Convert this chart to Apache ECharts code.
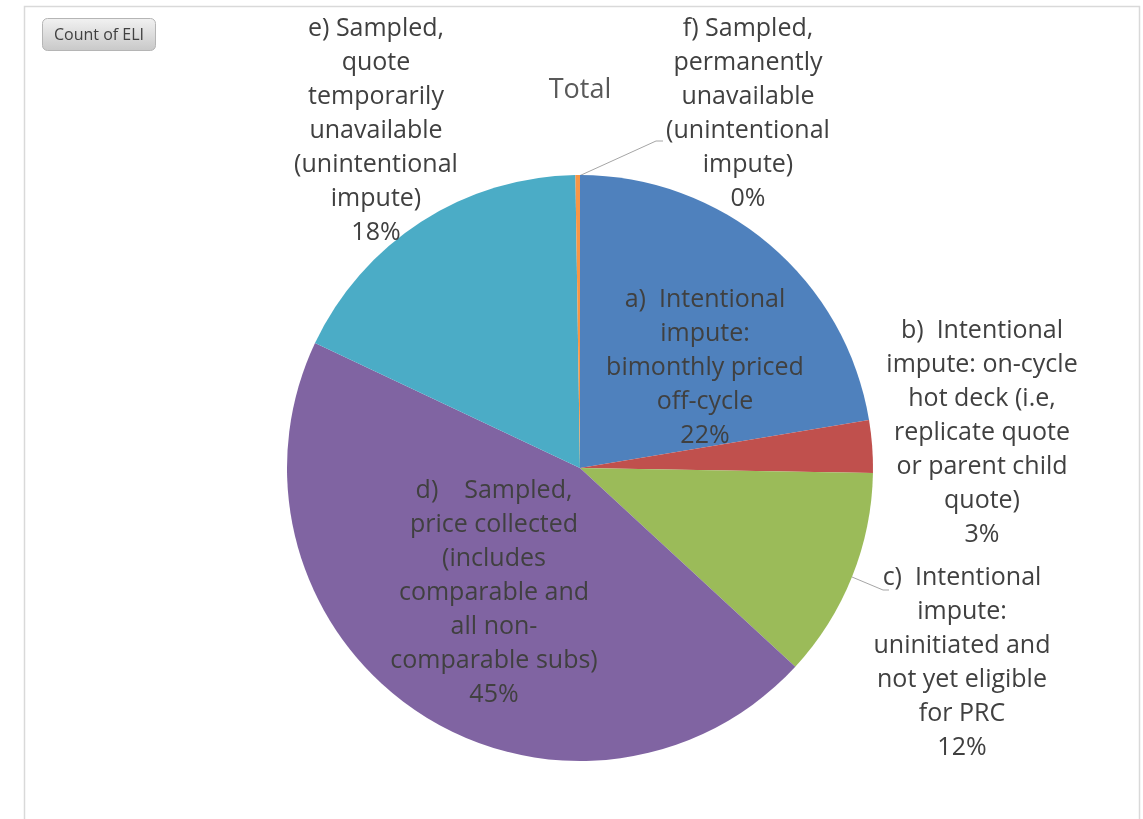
<!DOCTYPE html>
<html>
<head>
<meta charset="utf-8">
<script src="https://cdn.jsdelivr.net/npm/echarts@6/dist/echarts.min.js"></script>
<style>
  html, body { margin: 0; padding: 0; background: #ffffff; }
  #chart { width: 1143px; height: 819px; }
</style>
</head>
<body>
<div id="chart"></div>
<script>
// Count of ELI by collection / imputation category
const categories = [
  'a)  Intentional\nimpute:\nbimonthly priced\noff-cycle',
  'b)  Intentional\nimpute: on-cycle\nhot deck (i.e,\nreplicate quote\nor parent child\nquote)',
  'c)  Intentional\nimpute:\nuninitiated and\nnot yet eligible\nfor PRC',
  'd)    Sampled,\nprice collected\n(includes\ncomparable and\nall non-\ncomparable subs)',
  'e) Sampled,\nquote\ntemporarily\nunavailable\n(unintentional\nimpute)',
  'f) Sampled,\npermanently\nunavailable\n(unintentional\nimpute)'
];
const counts = [2240, 290, 1160, 4520, 1775, 25];
const sliceColors = ['#4F81BD', '#C0504D', '#9BBB59', '#8064A2', '#4BACC6', '#F79646'];
const chartTitle = 'Total';
const fieldButton = 'Count of ELI';

// Label placement (centre of each label block) and leader lines
const labelCentres = [
  [705, 368], [982, 433], [962, 663], [494, 593], [376, 131], [748, 114]
];
const leaderLines = {
  2: [[852, 577], [883, 590], [889, 590]],
  5: [[579, 176], [656, 141], [663, 141]]
};
const insideSlices = [0, 3];

const FONT = '"Open Sans", "Noto Sans", sans-serif';
const chart = echarts.init(document.getElementById('chart'), null, { renderer: 'canvas' });

const data = categories.map((name, i) => ({
  name: name,
  value: counts[i],
  itemStyle: { color: sliceColors[i] },
  label: { position: insideSlices.includes(i) ? 'inside' : 'outside' },
  labelLine: { show: leaderLines[i] !== undefined }
}));

chart.setOption({
  animation: false,
  backgroundColor: '#ffffff',
  graphic: [
    {
      type: 'rect',
      left: 22, top: 4,
      shape: { width: 1115, height: 830 },
      style: { fill: 'none', stroke: '#d9d9d9', lineWidth: 1.5 },
      silent: true
    },
    {
      type: 'text',
      x: 580, y: 90,
      style: {
        text: chartTitle,
        fontFamily: FONT,
        fontSize: 27,
        fill: '#595959',
        align: 'center',
        verticalAlign: 'middle'
      },
      silent: true
    },
    {
      type: 'group',
      left: 42, top: 18,
      children: [
        {
          type: 'rect',
          shape: { x: 0, y: 0, width: 113, height: 32, r: 5 },
          style: {
            fill: new echarts.graphic.LinearGradient(0, 0, 0, 1, [
              { offset: 0, color: '#f2f2f2' },
              { offset: 1, color: '#c8c8c8' }
            ]),
            stroke: '#b5b5b5',
            lineWidth: 1
          }
        },
        {
          type: 'text',
          x: 56.5, y: 17,
          style: {
            text: fieldButton,
            fontFamily: FONT,
            fontSize: 16,
            fill: '#404040',
            align: 'center',
            verticalAlign: 'middle'
          }
        }
      ]
    }
  ],
  series: [{
    type: 'pie',
    center: [580, 468],
    radius: 293,
    startAngle: 90,
    clockwise: true,
    avoidLabelOverlap: false,
    itemStyle: { borderWidth: 0 },
    label: {
      fontFamily: FONT,
      fontSize: 25,
      lineHeight: 34,
      color: '#404040',
      align: 'center',
      formatter: p => p.name + '\n' + Math.round(p.percent) + '%'
    },
    labelLine: {
      lineStyle: { color: '#a6a6a6', width: 1 }
    },
    labelLayout: params => {
      const c = labelCentres[params.dataIndex];
      const res = { x: c[0], y: c[1], align: 'center', verticalAlign: 'middle' };
      if (leaderLines[params.dataIndex]) {
        res.labelLinePoints = leaderLines[params.dataIndex];
      }
      return res;
    },
    emphasis: { disabled: true },
    data: data
  }]
});
</script>
</body>
</html>
